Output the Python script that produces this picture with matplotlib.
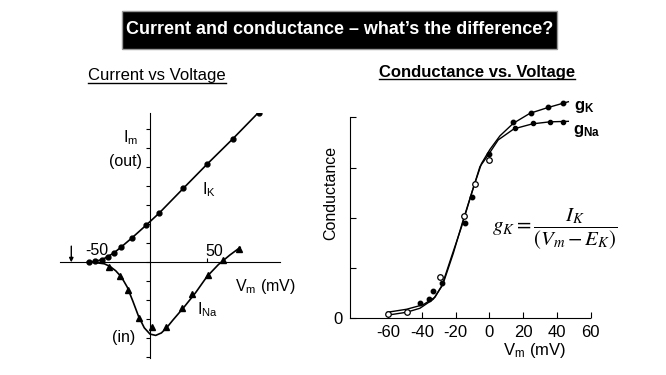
import numpy as np
import matplotlib
matplotlib.use("Agg")
import matplotlib.pyplot as plt
from matplotlib.patches import Rectangle
from matplotlib.lines import Line2D

plt.rcParams["font.family"] = ["Liberation Sans", "DejaVu Sans"]
plt.rcParams["mathtext.fontset"] = "custom"
plt.rcParams["mathtext.rm"] = "Liberation Sans"
plt.rcParams["mathtext.it"] = "Liberation Sans:italic"
plt.rcParams["mathtext.bf"] = "Liberation Sans:bold"

W, H = 666, 375

# --- Current vs Voltage (arbitrary current units) ---
ik_v = [-53.5, -48, -42, -37, -31.5, -25.7, -15.5, -3.8, 7.9, 29.2, 50.3, 72.8, 95.6]
ik_i = [0.0, 0.05, 0.12, 0.30, 0.51, 0.79, 1.30, 1.95, 2.58, 3.89, 5.18, 6.51, 7.84]
ik_curve_v = [-55, -53.5, -48, -42, -37, -31.5, -25.7, -15.5, -3.8, 7.9, 29.2, 50.3, 72.8, 97]
ik_curve_i = [0, 0, 0.05, 0.14, 0.30, 0.50, 0.78, 1.30, 1.93, 2.58, 3.89, 5.18, 6.51, 8.0]

ina_v = [-36, -26.3, -19.3, -9.6, 2, 13.7, 28.4, 37.1, 50.9, 64, 78]
ina_i = [-0.26, -0.70, -1.46, -2.95, -3.39, -3.39, -2.42, -1.68, -0.67, 0.12, 0.70]
ina_curve_v = [-50, -40, -35, -30, -25, -20, -15, -10, -5, 0, 5, 10, 15, 20, 30, 40, 50, 60, 70, 79]
ina_curve_i = [0, -0.08, -0.22, -0.45, -0.78, -1.3, -2.05, -2.85, -3.45, -3.78, -3.85, -3.72,
               -3.42, -3.05, -2.35, -1.6, -0.75, -0.12, 0.38, 0.78]

# --- Conductance vs Voltage ---
gk_curve_v = [-60.4, -49.0, -39.2, -32.2, -27.3, -21.4, -15.5, -9.6, -4.7, 0.3, 6.2, 14.1, 24.0, 34.2, 46.7]
gk_curve_g = [0.12, 0.18, 0.27, 0.42, 0.70, 1.29, 1.96, 2.59, 3.08, 3.36, 3.63, 3.88, 4.08, 4.19, 4.31]
gna_curve_v = [-58.9, -49.0, -41.1, -33.2, -28.3, -22.4, -16.5, -10.5, -5.6, -0.7, 5.2, 14.5, 25.5, 35.8, 46.7]
gna_curve_g = [0.07, 0.12, 0.20, 0.38, 0.63, 1.23, 1.82, 2.49, 3.02, 3.25, 3.55, 3.77, 3.87, 3.91, 3.92]

gk_v = [-41.1, -35.6, -33.3, -28.3, -14.5, -10.5, -0.1, 13.7, 24.4, 34.8, 43.3]
gk_g = [0.30, 0.38, 0.55, 0.70, 1.90, 2.41, 3.27, 3.91, 4.08, 4.21, 4.29]
gna_top_v = [15.1, 25.9, 35.8, 43.3]
gna_top_g = [3.78, 3.88, 3.90, 3.91]
gna_v = [-59.9, -48.6, -29.3, -15.1, -8.6, -0.1]
gna_g = [0.086, 0.125, 0.83, 2.03, 2.67, 3.15]

v_ticks = [-60, -40, -20, 0, 20, 40, 60]


def fx(x):
    return x / W


def fy(y):
    return 1 - y / H


fig = plt.figure(figsize=(W / 100, H / 100), dpi=100)

# title box
fig.add_artist(Rectangle((fx(122), fy(49)), 435 / W, 38 / H, transform=fig.transFigure,
                         facecolor="black", edgecolor="#999999", lw=1))
fig.text(fx(339.5), fy(30), "Current and conductance \u2013 what\u2019s the difference?",
         color="white", fontsize=13, fontweight="bold", ha="center", va="center")

# left panel
ax1 = fig.add_axes([fx(60), fy(358), 220 / W, 245 / H])
ax1.set_xlim(-78.9, 114)
ax1.set_ylim(-5.04, 7.86)
for s in ["top", "right"]:
    ax1.spines[s].set_visible(False)
ax1.spines["left"].set_position(("data", 0))
ax1.spines["bottom"].set_position(("data", 0))
ax1.set_yticks(range(-5, 8))
ax1.set_yticklabels([])
ax1.tick_params(axis="y", direction="out", length=3)
ax1.set_xticks([50])
ax1.set_xticklabels([])
ax1.tick_params(axis="x", direction="in", length=3)
ax1.patch.set_visible(False)

ax1.plot(ik_curve_v, ik_curve_i, color="black", lw=1.2)
ax1.plot(ik_v, ik_i, "o", color="black", ms=3.5)
ax1.plot(ina_curve_v, ina_curve_i, color="black", lw=1.2)
ax1.plot(ina_v, ina_i, "^", color="black", ms=4)

lab = dict(fontsize=11.5, color="black")
ax1.text(-10.5, 6.54, r"I$_\mathrm{m}$", ha="right", va="center", **lab)
ax1.text(-7.3, 5.3, "(out)", ha="right", va="center", **lab)
ax1.text(46, 3.85, r"I$_\mathrm{K}$", ha="left", va="center", **lab)
ax1.text(-57, 0.62, "-50", ha="left", va="center", **lab)
ax1.text(48.2, 0.55, "50", ha="left", va="center", **lab)
ax1.text(74.5, -1.28, r"V$_\mathrm{m}$ (mV)", ha="left", va="center", **lab)
ax1.text(41, -2.5, r"I$_\mathrm{Na}$", ha="left", va="center", **lab)
ax1.text(-33.6, -3.95, "(in)", ha="left", va="center", **lab)
ax1.annotate("", xy=(-69, 0), xytext=(-69, 0.85),
             arrowprops=dict(arrowstyle="-|>", lw=1.0, color="black", mutation_scale=6,
                             shrinkA=0, shrinkB=0))

t1 = fig.text(fx(156.7), fy(80), "Current vs Voltage", fontsize=12, ha="center", va="baseline")

# right panel
ax2 = fig.add_axes([fx(350), fy(318.3), 242.5 / W, 223.3 / H])
ax2.set_xlim(-82.5, 61)
ax2.set_ylim(0, 4.444)
for s in ["top", "right"]:
    ax2.spines[s].set_visible(False)
ax2.spines["left"].set_bounds(0, 4)
ax2.spines["bottom"].set_bounds(-82.5, 59.5)
ax2.set_xticks(v_ticks)
ax2.set_xticklabels([str(v) for v in v_ticks])
ax2.set_yticks([0, 1, 2, 3, 4])
ax2.set_yticklabels(["0", "", "", "", ""])
ax2.tick_params(direction="in", length=4, labelsize=12, pad=5)
ax2.patch.set_visible(False)

ax2.plot(gk_curve_v, gk_curve_g, color="black", lw=1.0)
ax2.plot(gna_curve_v, gna_curve_g, color="black", lw=1.0)
ax2.plot(gk_v, gk_g, "o", color="black", ms=3.2, clip_on=False)
ax2.plot(gna_top_v, gna_top_g, "o", color="black", ms=3.0, clip_on=False)
ax2.plot(gna_v, gna_g, "o", mfc="white", mec="black", mew=0.9, ms=4, clip_on=False)

fig.text(fx(330.7), fy(192.5), "Conductance", rotation=90, fontsize=11.5, ha="center", va="center")
fig.text(fx(535), fy(350), r"V$_\mathrm{m}$ (mV)", fontsize=12, ha="center", va="center")
fig.text(fx(574), fy(106.7), r"g$_\mathbf{K}$", fontsize=12, fontweight="bold", ha="left", va="center")
fig.text(fx(573), fy(131), r"g$_\mathbf{Na}$", fontsize=12, fontweight="bold", ha="left", va="center")
fig.text(fx(492), fy(229), r"$g_K = \dfrac{I_K}{(V_m - E_K)}$", fontsize=15,
         math_fontfamily="stix", ha="left", va="center")

t2 = fig.text(fx(476.7), fy(76.7), "Conductance vs. Voltage", fontsize=12, fontweight="bold",
              ha="center", va="baseline")

# underline the two panel titles
fig.canvas.draw()
for t, base in [(t1, 80), (t2, 76.7)]:
    bb = t.get_window_extent()
    yl = fy(base + 2.5)
    fig.add_artist(Line2D([bb.x0 / W, bb.x1 / W], [yl, yl], color="black", lw=1.0,
                          transform=fig.transFigure))

fig.savefig("out.png", dpi=100)
